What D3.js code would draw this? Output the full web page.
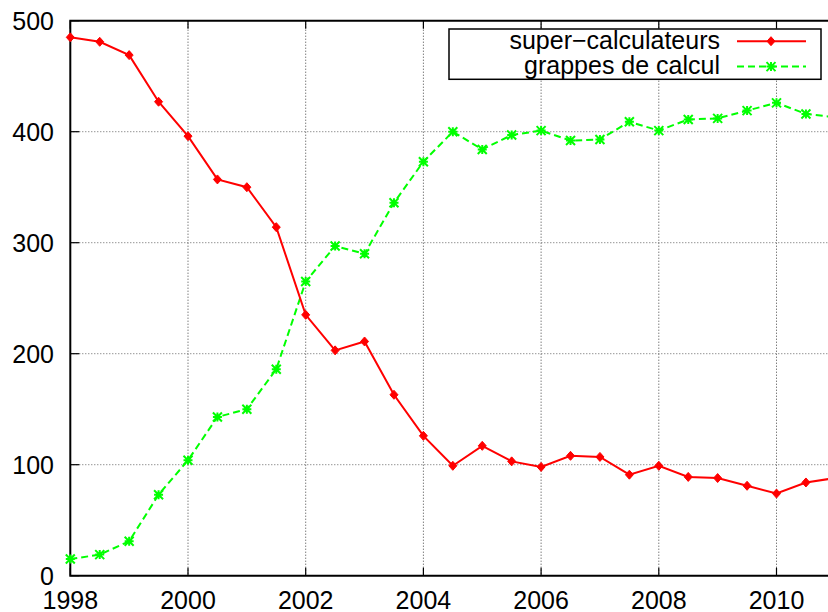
<!DOCTYPE html>
<html>
<head>
<meta charset="utf-8">
<script src="https://cdn.jsdelivr.net/npm/d3@7"></script>
<style>
  body { margin: 0; background: #fff; }
  svg { display: block; font-family: "Liberation Sans", Arial, sans-serif; }
</style>
</head>
<body>
<div id="chart"></div>
<script>
// data: number of systems per half-year
const years = [1998, 1998.5, 1999, 1999.5, 2000, 2000.5, 2001, 2001.5, 2002, 2002.5,
  2003, 2003.5, 2004, 2004.5, 2005, 2005.5, 2006, 2006.5, 2007, 2007.5, 2008,
  2008.5, 2009, 2009.5, 2010, 2010.5, 2011];
const superCalc = [485, 481, 469, 427, 396, 357, 350, 314, 235, 203,
  211, 163, 126, 99, 117, 103, 98, 108, 107, 91, 99,
  89, 88, 81, 74, 84, 88];
const grappes = [15, 19, 31, 73, 104, 143, 150, 186, 265, 297,
  290, 336, 373, 400, 384, 397, 401, 392, 393, 409, 401,
  411, 412, 419, 426, 416, 413];
const xTicks = [1998, 2000, 2002, 2004, 2006, 2008, 2010];
const yTicks = [0, 100, 200, 300, 400, 500];
const seriesNames = ["super\u2212calculateurs", "grappes de calcul"];

const W = 828, H = 612;
const plotLeft = 70.3, plotTop = 20.7, plotBottom = 575.7;
const perYear = 58.85;
const fontSize = 25;

const svg = d3.select("#chart").append("svg")
  .attr("width", W).attr("height", H);

const x = d3.scaleLinear().domain([1998, 2011]).range([plotLeft, plotLeft + 13 * perYear]);
const y = d3.scaleLinear().domain([0, 500]).range([plotBottom, plotTop]);

// grid
const grid = svg.append("g");
grid.selectAll("line.gx")
  .data(xTicks.filter(d => d > 1998))
  .enter().append("line")
  .attr("x1", d => x(d)).attr("x2", d => x(d))
  .attr("y1", plotTop).attr("y2", plotBottom)
  .attr("stroke", "#444").attr("stroke-width", 1)
  .attr("stroke-dasharray", "1,2");
grid.selectAll("line.gy")
  .data(yTicks.filter(d => d > 0 && d < 500))
  .enter().append("line")
  .attr("x1", plotLeft).attr("x2", W)
  .attr("y1", d => y(d)).attr("y2", d => y(d))
  .attr("stroke", "#666").attr("stroke-width", 1)
  .attr("stroke-dasharray", "1,2");

// ticks (inward, mirrored on top)
const tk = svg.append("g").attr("stroke", "#000").attr("stroke-width", 1.2);
xTicks.forEach(d => {
  tk.append("line").attr("x1", x(d)).attr("x2", x(d)).attr("y1", plotBottom).attr("y2", plotBottom - 8);
  tk.append("line").attr("x1", x(d)).attr("x2", x(d)).attr("y1", plotTop).attr("y2", plotTop + 8);
});
yTicks.forEach(d => {
  tk.append("line").attr("x1", plotLeft).attr("x2", plotLeft + 9).attr("y1", y(d)).attr("y2", y(d));
});

// border
svg.append("path")
  .attr("d", `M${W},${plotTop}H${plotLeft}V${plotBottom}H${W}`)
  .attr("fill", "none").attr("stroke", "#000").attr("stroke-width", 2);

// tick labels
svg.append("g").selectAll("text")
  .data(yTicks).enter().append("text")
  .attr("x", 54).attr("y", d => y(d))
  .attr("dy", "0.36em")
  .attr("text-anchor", "end")
  .attr("font-size", fontSize)
  .text(d => d);
svg.append("g").selectAll("text")
  .data(xTicks).enter().append("text")
  .attr("x", d => x(d)).attr("y", 609)
  .attr("text-anchor", "middle")
  .attr("font-size", fontSize)
  .text(d => d);

// series
const line = d3.line().x((d, i) => x(years[i])).y(d => y(d));

svg.append("path").datum(grappes)
  .attr("d", line)
  .attr("fill", "none").attr("stroke", "#00ff00").attr("stroke-width", 2)
  .attr("stroke-dasharray", "7,4");
svg.append("path").datum(superCalc)
  .attr("d", line)
  .attr("fill", "none").attr("stroke", "#ff0000").attr("stroke-width", 2);

function diamond(g, cx, cy) {
  g.append("path")
    .attr("d", `M${cx},${cy - 4.5}L${cx + 4},${cy}L${cx},${cy + 4.5}L${cx - 4},${cy}Z`)
    .attr("fill", "#ff0000").attr("stroke", "#ff0000").attr("stroke-width", 1);
}
function star(g, cx, cy) {
  const r = 4.5;
  g.append("path")
    .attr("d", `M${cx - r},${cy}H${cx + r}M${cx},${cy - r}V${cy + r}` +
      `M${cx - r},${cy - r}L${cx + r},${cy + r}M${cx - r},${cy + r}L${cx + r},${cy - r}`)
    .attr("fill", "none").attr("stroke", "#00ff00").attr("stroke-width", 2);
}

const gm = svg.append("g");
grappes.forEach((d, i) => star(gm, x(years[i]), y(d)));
const rm = svg.append("g");
superCalc.forEach((d, i) => diamond(rm, x(years[i]), y(d)));

// legend
const lg = svg.append("g");
lg.append("rect")
  .attr("x", 449).attr("y", 29).attr("width", 372).attr("height", 50.3)
  .attr("fill", "#fff").attr("stroke", "#000").attr("stroke-width", 1.5);
const rowsY = [41.2, 66.6];
lg.selectAll("text").data(seriesNames).enter().append("text")
  .attr("x", 720).attr("y", (d, i) => rowsY[i])
  .attr("dy", "0.3em")
  .attr("text-anchor", "end")
  .attr("font-size", fontSize)
  .text(d => d);
lg.append("line").attr("x1", 737).attr("x2", 806).attr("y1", rowsY[0]).attr("y2", rowsY[0])
  .attr("stroke", "#ff0000").attr("stroke-width", 2);
diamond(lg, 771, rowsY[0]);
lg.append("line").attr("x1", 737).attr("x2", 806).attr("y1", rowsY[1]).attr("y2", rowsY[1])
  .attr("stroke", "#00ff00").attr("stroke-width", 2).attr("stroke-dasharray", "7,4");
star(lg, 771, rowsY[1]);
</script>
</body>
</html>
